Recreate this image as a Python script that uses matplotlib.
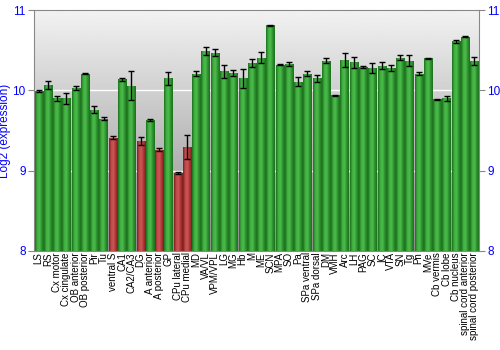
import matplotlib
matplotlib.use("Agg")
import matplotlib.pyplot as plt
import numpy as np

regions = ["LS", "RS", "Cx motor", "Cx cingulate", "OB anterior", "OB posterior",
           "Pir", "Tu", "ventral S", "CA1", "CA2/CA3", "DG", "A anterior",
           "A posterior", "GP", "CPu lateral", "CPu medial", "MD", "VA/VL",
           "VPM/VPL", "LG", "MG", "Hb", "M", "ME", "SCN", "MPA", "SO", "Pa",
           "SPa ventral", "SPa dorsal", "DM", "VMH", "Arc", "LH", "PAG", "SC",
           "IC", "VTA", "SN", "Tg", "Pn", "MVe", "Cb vermis", "Cb lobe",
           "Cb nucleus", "spinal cord anterior", "spinal cord posterior"]
expr = [9.99, 10.07, 9.90, 9.90, 10.03, 10.21, 9.76, 9.65, 9.41, 10.14, 10.06,
        9.37, 9.63, 9.26, 10.15, 8.97, 9.29, 10.21, 10.49, 10.47, 10.24, 10.22,
        10.15, 10.34, 10.41, 10.81, 10.32, 10.33, 10.11, 10.21, 10.15, 10.37,
        9.94, 10.38, 10.35, 10.29, 10.28, 10.31, 10.28, 10.41, 10.37, 10.21,
        10.40, 9.89, 9.90, 10.61, 10.67, 10.37]
err = [0.01, 0.05, 0.03, 0.07, 0.02, 0.01, 0.04, 0.02, 0.02, 0.02, 0.18,
       0.05, 0.01, 0.02, 0.08, 0.01, 0.15, 0.03, 0.05, 0.04, 0.08, 0.04,
       0.12, 0.05, 0.07, 0.01, 0.005, 0.02, 0.06, 0.03, 0.04, 0.03,
       0.005, 0.09, 0.07, 0.01, 0.06, 0.04, 0.04, 0.03, 0.07, 0.02,
       0.01, 0.005, 0.03, 0.02, 0.005, 0.05]
low = ["ventral S", "DG", "A posterior", "CPu lateral", "CPu medial"]

plt.rcParams['font.family'] = ['Liberation Sans', 'DejaVu Sans']

fig = plt.figure(figsize=(5, 3.5), dpi=100)
ax = fig.add_axes([0.068, 0.283, 0.89, 0.688])

x = np.arange(len(regions))
ax.set_xlim(-0.5, len(regions) - 0.5)
ax.set_ylim(8, 11)

# gray gradient background
bg = np.linspace(0.55, 0.95, 256).reshape(-1, 1)
ax.imshow(bg, cmap="gray", vmin=0, vmax=1, aspect="auto",
          extent=(-0.5, len(regions) - 0.5, 8, 11), origin="lower", zorder=0)
for g in [9, 10]:
    ax.axhline(g, color="white", lw=1, zorder=1)

green = plt.matplotlib.colors.LinearSegmentedColormap.from_list(
    "g", ["#1d6e1d", "#3fae3f", "#4cbc4c", "#2e932e", "#1d6e1d"])
red = plt.matplotlib.colors.LinearSegmentedColormap.from_list(
    "r", ["#7e1e1e", "#c04a4a", "#cc5656", "#a83434", "#7e1e1e"])
grad = np.linspace(0, 1, 64).reshape(1, -1)

bars = ax.bar(x, [v - 8 for v in expr], bottom=8, width=0.88,
              color="none", zorder=2)
for name, b in zip(regions, bars):
    cm = red if name in low else green
    im = ax.imshow(grad, cmap=cm, aspect="auto", zorder=2,
                   extent=(b.get_x(), b.get_x() + b.get_width(), 8, 8 + b.get_height()))
    im.set_clip_path(b)

ax.errorbar(x, expr, yerr=err, fmt="none", ecolor="black", elinewidth=1,
            capsize=2, capthick=1, zorder=3)

ax.set_xticks(x)
ax.set_xticklabels(regions, rotation=90, fontsize=7)
ax.tick_params(axis="x", length=0, pad=1)
ax.set_yticks([8, 9, 10, 11])
ax.tick_params(axis="y", colors="#888888", labelcolor="blue", labelsize=8.5,
               length=4, right=True, labelright=True, pad=2)
ax.set_ylabel("Log2 (expression)", color="blue", fontsize=8.5)
ax.yaxis.set_label_coords(-0.052, 0.5)
for s in ax.spines.values():
    s.set_color("#888888")

fig.savefig("out.png", dpi=100)
